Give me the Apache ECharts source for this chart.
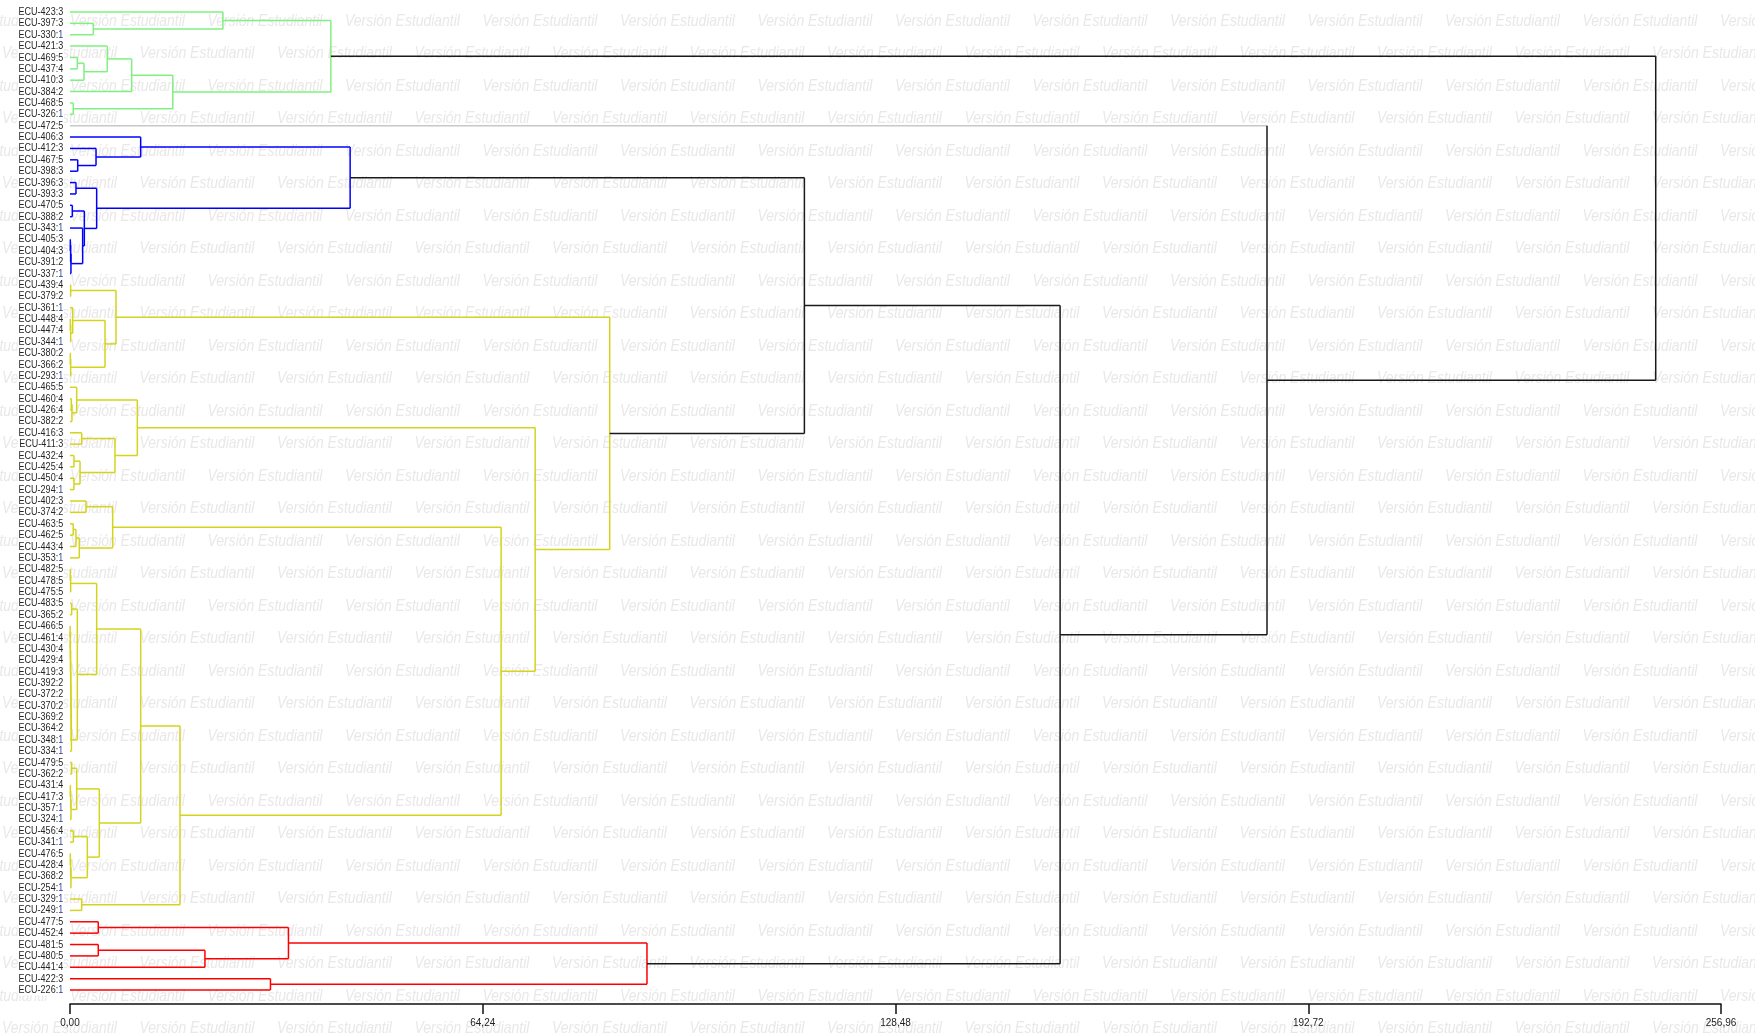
<!DOCTYPE html>
<html>
<head>
<meta charset="utf-8">
<script src="https://cdn.jsdelivr.net/npm/echarts@6/dist/echarts.min.js"></script>
<style>html,body{margin:0;padding:0;background:#fff;}#c{width:1755px;height:1034px;}</style>
</head>
<body>
<div id="c"></div>
<script>
// ---- leaf order (top to bottom) ----
const leafLabels = [
 'ECU-423:3','ECU-397:3','ECU-330:1','ECU-421:3','ECU-469:5','ECU-437:4','ECU-410:3','ECU-384:2','ECU-468:5','ECU-326:1',
 'ECU-472:5',
 'ECU-406:3','ECU-412:3','ECU-467:5','ECU-398:3','ECU-396:3','ECU-393:3','ECU-470:5','ECU-388:2','ECU-343:1','ECU-405:3','ECU-404:3','ECU-391:2','ECU-337:1',
 'ECU-439:4','ECU-379:2','ECU-361:1','ECU-448:4','ECU-447:4','ECU-344:1','ECU-380:2','ECU-366:2','ECU-293:1','ECU-465:5',
 'ECU-460:4','ECU-426:4','ECU-382:2','ECU-416:3','ECU-411:3','ECU-432:4','ECU-425:4','ECU-450:4','ECU-294:1','ECU-402:3',
 'ECU-374:2','ECU-463:5','ECU-462:5','ECU-443:4','ECU-353:1','ECU-482:5','ECU-478:5','ECU-475:5','ECU-483:5','ECU-365:2',
 'ECU-466:5','ECU-461:4','ECU-430:4','ECU-429:4','ECU-419:3','ECU-392:2','ECU-372:2','ECU-370:2','ECU-369:2','ECU-364:2',
 'ECU-348:1','ECU-334:1','ECU-479:5','ECU-362:2','ECU-431:4','ECU-417:3','ECU-357:1','ECU-324:1','ECU-456:4','ECU-341:1',
 'ECU-476:5','ECU-428:4','ECU-368:2','ECU-254:1','ECU-329:1','ECU-249:1',
 'ECU-477:5','ECU-452:4','ECU-481:5','ECU-480:5','ECU-441:4','ECU-422:3','ECU-226:1'
];

// ---- merges: [node, childA, childB, height] ----
const greenMerges = [
 ['g1','ECU-397:3','ECU-330:1',3.63],
 ['g2','ECU-423:3','g1',23.8],
 ['g3','ECU-469:5','ECU-437:4',1.14],
 ['g4','g3','ECU-410:3',2.18],
 ['g5','ECU-421:3','g4',5.8],
 ['g6','g5','ECU-384:2',9.6],
 ['g7','ECU-468:5','ECU-326:1',0.51],
 ['g8','g6','g7',16.0],
 ['G','g2','g8',40.6]
];
const blueMerges = [
 ['b1','ECU-467:5','ECU-398:3',1.2],
 ['b2','ECU-412:3','b1',4.05],
 ['b3','ECU-406:3','b2',11.0],
 ['b4','ECU-396:3','ECU-393:3',0.93],
 ['b5','ECU-470:5','ECU-388:2',0.36],
 ['b6','ECU-405:3','ECU-404:3',0.05],
 ['b7','b6','ECU-391:2',0.1],
 ['b8','b7','ECU-337:1',0.15],
 ['b9','ECU-343:1','b8',1.97],
 ['b10','b5','b9',2.23],
 ['b11','b4','b10',4.15],
 ['B','b3','b11',43.6]
];
const yellowMerges = [
 ['y1','ECU-439:4','ECU-379:2',0.1],
 ['y2','ECU-448:4','ECU-447:4',0.05],
 ['y3','y2','ECU-344:1',0.1],
 ['y4','ECU-361:1','y3',0.42],
 ['y5','ECU-380:2','ECU-366:2',0.05],
 ['y6','y5','ECU-293:1',0.1],
 ['y7','y4','y6',5.45],
 ['Y1','y1','y7',7.16],
 ['y8','ECU-460:4','ECU-426:4',0.2],
 ['y9','y8','ECU-382:2',0.3],
 ['y10','ECU-465:5','y9',1.04],
 ['y11','ECU-416:3','ECU-411:3',1.82],
 ['y12','ECU-432:4','ECU-425:4',0.62],
 ['y13','ECU-450:4','ECU-294:1',0.62],
 ['y14','y12','y13',1.56],
 ['y15','y11','y14',7.0],
 ['Y2','y10','y15',10.48],
 ['y16','ECU-402:3','ECU-374:2',2.49],
 ['y17','ECU-463:5','ECU-462:5',0.5],
 ['y18','y17','ECU-443:4',0.93],
 ['y19','y18','ECU-353:1',1.45],
 ['Y3a','y16','y19',6.64],
 ['y20','ECU-482:5','ECU-478:5',0.05],
 ['y21','y20','ECU-475:5',0.1],
 ['y22','ECU-483:5','ECU-365:2',0.26],
 ['c1','ECU-466:5','ECU-461:4',0.02],
 ['c2','c1','ECU-430:4',0.04],
 ['c3','c2','ECU-429:4',0.06],
 ['c4','c3','ECU-419:3',0.08],
 ['c5','c4','ECU-392:2',0.10],
 ['c6','c5','ECU-372:2',0.12],
 ['c7','c6','ECU-370:2',0.14],
 ['c8','c7','ECU-369:2',0.16],
 ['c9','c8','ECU-364:2',0.18],
 ['c10','c9','ECU-348:1',0.20],
 ['c11','c10','ECU-334:1',0.22],
 ['y34','y22','c11',1.14],
 ['y35','y21','y34',4.15],
 ['y36','ECU-479:5','ECU-362:2',0.26],
 ['y37','ECU-431:4','ECU-417:3',0.05],
 ['y38','y37','ECU-357:1',0.1],
 ['y39','y38','ECU-324:1',0.15],
 ['y40','y36','y39',1.04],
 ['y41','ECU-456:4','ECU-341:1',0.52],
 ['y42','ECU-476:5','ECU-428:4',0.05],
 ['y43','y42','ECU-368:2',0.1],
 ['y44','y43','ECU-254:1',0.15],
 ['y45','y41','y44',2.7],
 ['y46','y40','y45',4.56],
 ['y47','y35','y46',11.0],
 ['y48','ECU-329:1','ECU-249:1',1.82],
 ['y49','y47','y48',17.12],
 ['Y3','Y3a','y49',67.1],
 ['Y23','Y2','Y3',72.4],
 ['Y','Y1','Y23',84.0]
];
const redMerges = [
 ['r1','ECU-477:5','ECU-452:4',4.4],
 ['r2','ECU-481:5','ECU-480:5',4.4],
 ['r3','r2','ECU-441:4',21.0],
 ['r4','r1','r3',34.0],
 ['r5','ECU-422:3','ECU-226:1',31.2],
 ['R','r4','r5',89.8]
];
const topMerges = [
 ['t1','B','Y',114.3],
 ['t2','t1','R',154.1],
 ['t3','ECU-472:5','t2',186.3],
 ['root','G','t3',246.8]
];
const tickValues = [0, 64.24, 128.48, 192.72, 256.96];

// ---- build segments from the tree ----
const palette = ['#80f080', '#0000ff', '#d4d41e', '#ff0000', '#1a1a1a', '#c8c8c8'];
const groups = [[greenMerges,0],[blueMerges,1],[yellowMerges,2],[redMerges,3],[topMerges,4]];
const pos = {}, hgt = {}, isLeaf = {};
leafLabels.forEach((l, i) => { pos[l] = i; hgt[l] = 0; isLeaf[l] = true; });
const segments = [];
groups.forEach(([merges, ci]) => {
  merges.forEach(([n, a, b, h]) => {
    const ya = pos[a], yb = pos[b];
    const ca = (ci === 4 && isLeaf[a]) ? 5 : ci;
    const cb = (ci === 4 && isLeaf[b]) ? 5 : ci;
    segments.push([hgt[a], ya, h, ya, ca]);
    segments.push([hgt[b], yb, h, yb, cb]);
    segments.push([h, ya, h, yb, ci]);
    pos[n] = (ya + yb) / 2; hgt[n] = h;
  });
});

const SANS = '"Liberation Sans", Arial, sans-serif';
const NARROW = 0.82;

// ---- watermark ----
const wm = [];
for (let r = 0; r < 32; r++) {
  const y = 21 + 32.5 * r;
  const start = (r % 2 === 0) ? 70 - 137.5 : 2;
  for (let x = start; x < 1755; x += 137.5) {
    wm.push({
      type: 'text', x: x, y: y, scaleX: NARROW, z: -10, silent: true,
      style: { text: 'Versión Estudiantil', fill: '#eae7e7',
        font: 'italic 17px ' + SANS,
        textVerticalAlign: 'middle', textAlign: 'left' }
    });
  }
}

const chart = echarts.init(document.getElementById('c'), null, { renderer: 'canvas' });
chart.setOption({
  backgroundColor: '#ffffff',
  animation: false,
  graphic: { elements: wm },
  grid: { left: 70, right: 34, top: 6.3, bottom: 38.3, containLabel: false },
  xAxis: {
    type: 'value', min: 0, max: 256.96, interval: 64.24, offset: 8.3, position: 'bottom',
    axisLine: { show: true, onZero: false, lineStyle: { color: '#111', width: 1.5 } },
    axisTick: { show: true, length: 10, lineStyle: { color: '#111', width: 1.5 } },
    splitLine: { show: false },
    axisLabel: {
      fontFamily: SANS, fontSize: 10, color: '#222', margin: 14,
      formatter: v => { const m = tickValues.find(t => Math.abs(t - v) < 1e-6); return (m !== undefined ? m : v).toFixed(2).replace('.', ','); }
    }
  },
  yAxis: { type: 'value', min: -0.5, max: leafLabels.length - 0.5, inverse: true, show: false },
  series: [{
    type: 'custom', clip: false, silent: true,
    data: segments,
    encode: { x: [0, 2], y: [1, 3] },
    renderItem: (params, api) => {
      const p1 = api.coord([api.value(0), api.value(1)]);
      const p2 = api.coord([api.value(2), api.value(3)]);
      return { type: 'line', shape: { x1: p1[0], y1: p1[1], x2: p2[0], y2: p2[1] },
        style: { stroke: palette[api.value(4)], lineWidth: 1.5 } };
    }
  }, {
    type: 'custom', clip: false, silent: true,
    data: leafLabels.map((l, i) => [0, i]),
    encode: { x: 0, y: 1 },
    renderItem: (params, api) => {
      const p = api.coord([api.value(0), api.value(1)]);
      const lab = leafLabels[params.dataIndex];
      const k = lab.lastIndexOf(':');
      const txt = lab.slice(k + 1) === '1' ? '{a|' + lab.slice(0, k + 1) + '}{b|1}' : '{a|' + lab + '}';
      return { type: 'text', x: p[0] - 6, y: p[1], scaleX: NARROW, z2: 5,
        style: { text: txt, align: 'right', verticalAlign: 'middle', textAlign: 'right', textVerticalAlign: 'middle',
          font: '11px ' + SANS, fill: '#262626', backgroundColor: '#ffffff', padding: [0, 1],
          rich: { a: { font: '11px ' + SANS, fill: '#262626', color: '#262626' },
                  b: { font: '11px ' + SANS, fill: '#3040a0', color: '#3040a0' } } } };
    }
  }]
});
</script>
</body>
</html>
